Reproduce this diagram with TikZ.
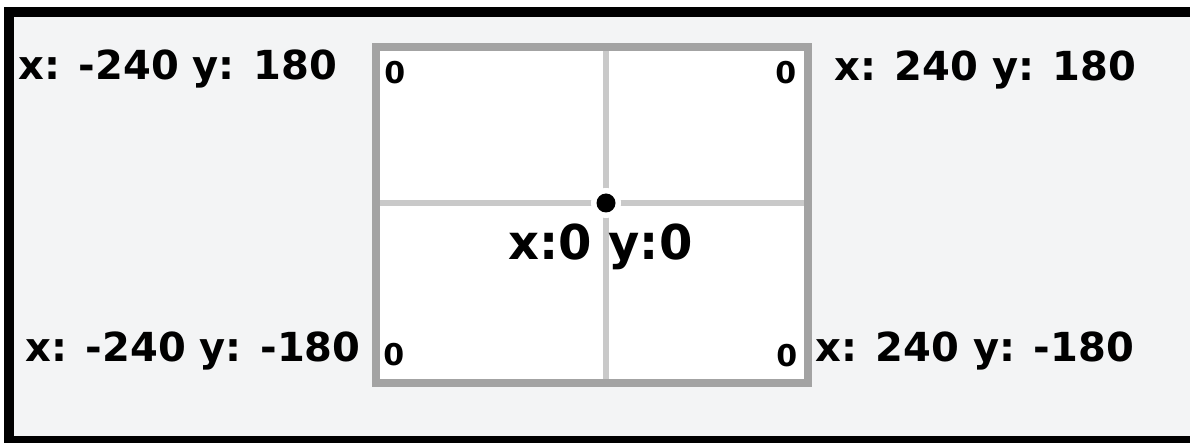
\documentclass[tikz,border=0pt]{standalone}
\usepackage{fontspec}
\setmainfont{DejaVu Sans}
\usepackage{tikz}
\usetikzlibrary{positioning}
\definecolor{panelgray}{RGB}{243,244,245}
\definecolor{framegray}{RGB}{163,163,163}
\definecolor{axisgray}{RGB}{201,201,201}

\begin{document}
\begin{tikzpicture}[x=0.5pt, y=-0.5pt,
      lbl/.style={anchor=base west, inner sep=0pt, font=\fontsize{20}{24}\selectfont\bfseries},
      zero/.style={anchor=base west, inner sep=0pt, font=\fontsize{15}{18}\selectfont\bfseries},
      mid/.style={anchor=base west, inner sep=0pt, font=\fontsize{24}{28}\selectfont\bfseries}]
      \useasboundingbox (0,0) rectangle (1190,443);
      % panel with black frame (open on the right)
      \fill[panelgray] (9,12) rectangle (1190,441);
      \draw[line width=5pt] (1190,12) -- (9,12) -- (9,441) -- (1190,441);

      % stage: white box with grey frame
      \coordinate (sNW) at (376,47);
      \coordinate (sSE) at (808,383);
      \fill[white] (sNW) rectangle (sSE);
      % axes through the origin
      \coordinate (o) at (606,203);
      \draw[axisgray, line width=3pt] (606,47) -- (606,383);
      \draw[axisgray, line width=3pt] (376,203) -- (808,203);
      \draw[framegray, line width=3.6pt] (sNW) rectangle (sSE);
      % origin dot
      \fill[white] (o) circle (15);
      \fill[black] (o) circle (9.5);

      % corner coordinates
      \node[lbl] (tl) at (18,80)  {x: -240 y: 180};
      \node[lbl] (tr) at (834,81) {x: 240 y: 180};
      \node[lbl] (bl) at (25,362) {x: -240 y: -180};
      \node[lbl] (br) at (815,362) {x: 240 y: -180};
      \node[mid] (ol) at (508,260) {x:0 y:0};

      % zeros in the stage corners
      \node[zero] (ztl) at (384,84)  {0};
      \node[zero] (ztr) at (775,84)  {0};
      \node[zero] (zbl) at (383,366) {0};
      \node[zero] (zbr) at (776,367) {0};
    \end{tikzpicture}
\end{document}
